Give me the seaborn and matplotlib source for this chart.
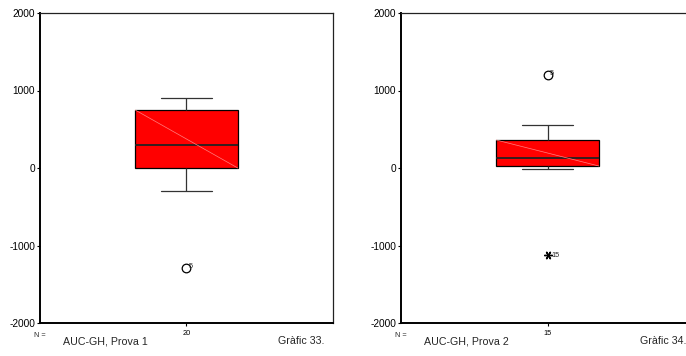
import numpy as np
import pandas as pd
import matplotlib
matplotlib.use("Agg")
import matplotlib.pyplot as plt
import seaborn as sns

# AUC-GH differences, one value per subject (sorted), with SPSS case numbers
prova1_values = [-1286, -293, -210, -85, -12, 4, 95, 160, 225, 280,
                 314, 420, 530, 615, 740, 772, 810, 850, 880, 903]
prova1_cases = list(range(1, 21))
prova1_cases[0], prova1_cases[4] = 5, 1

prova2_values = [-1119, -13, 5, 18, 34, 60, 98, 133, 190, 260,
                 340, 382, 470, 555, 1200]
prova2_cases = list(range(1, 16))
prova2_cases[0], prova2_cases[14] = 15, 5
prova2_cases[4], prova2_cases[5] = 14, 6

panel_titles = ["AUC-GH, Prova 1", "AUC-GH, Prova 2"]
panel_captions = ["Gràfic 33.", "Gràfic 34."]
y_ticks = [2000, 1000, 0, -1000, -2000]

sns.set_style("white")
plt.rcParams["font.family"] = ["Liberation Sans", "DejaVu Sans"]

fig = plt.figure(figsize=(6.86, 3.56), dpi=100)
W, H = 686, 356
BOX_W = 0.35

panels = [
    (prova1_values, prova1_cases, 40, panel_titles[0], panel_captions[0]),
    (prova2_values, prova2_cases, 401, panel_titles[1], panel_captions[1]),
]

for values, cases, left_px, title, caption in panels:
    ax = fig.add_axes([left_px / W, 1 - 323 / H, 293 / W, 310 / H])
    df = pd.DataFrame({"auc": values, "case": cases})
    sns.boxplot(data=df, y="auc", ax=ax, width=BOX_W, color="#ff0000",
                saturation=1, linecolor="black", linewidth=0.9,
                showfliers=False, whis=1.5,
                whiskerprops=dict(color="#333333", linewidth=0.9),
                capprops=dict(color="#333333", linewidth=0.9),
                medianprops=dict(color="#222222", linewidth=1.3))

    # SPSS-style outlier / extreme classification
    q1, q3 = np.percentile(values, [25, 75])
    iqr = q3 - q1
    for v, c in zip(values, cases):
        if v < q1 - 3 * iqr or v > q3 + 3 * iqr:
            ax.plot(0, v, marker=(6, 2, 90), ms=6, color="black", mew=1)
            ax.annotate(str(c), (0, v), xytext=(2.6, -0.8), textcoords="offset points",
                        fontsize=5.3, va="center")
        elif v < q1 - 1.5 * iqr or v > q3 + 1.5 * iqr:
            ax.plot(0, v, marker="o", ms=6.2, mfc="none", mec="black", mew=0.9)
            ax.annotate(str(c), (0, v), xytext=(1.6, 0.8), textcoords="offset points",
                        fontsize=5.3, va="center")

    # faint diagonal drawn across the box fill
    ax.plot([-BOX_W / 2, BOX_W / 2], [q3, q1], color="#ff8080", lw=0.5, zorder=5)

    ax.set_xlim(-0.5, 0.5)
    ax.set_ylim(-2000, 2000)
    ax.set_yticks(y_ticks)
    ax.set_yticklabels([str(t) for t in y_ticks])
    ax.set_xticks([0])
    ax.set_xticklabels([str(len(values))])
    ax.set_xlabel("")
    ax.set_ylabel("")
    ax.tick_params(axis="y", left=True, length=2.5, width=0.8, pad=1, labelsize=7.3,
                   colors="black")
    ax.tick_params(axis="x", bottom=True, length=2.5, width=0.8, pad=2.5, labelsize=5.3,
                   colors="black")
    for side in ["left", "bottom"]:
        ax.spines[side].set_linewidth(1.4)
        ax.spines[side].set_color("black")
    for side in ["top", "right"]:
        ax.spines[side].set_linewidth(0.9)
        ax.spines[side].set_color("#222222")

    ax.text(0.0, -0.03, "N =", transform=ax.transAxes, fontsize=5.3,
            ha="center", va="top")
    fig.text((left_px + 23) / W, 1 - 341 / H, title, fontsize=7.7,
             ha="left", va="center")
    fig.text((left_px + 285) / W, 1 - 341 / H, caption, fontsize=7.7,
             ha="right", va="center")

fig.savefig("out.png", dpi=100)
